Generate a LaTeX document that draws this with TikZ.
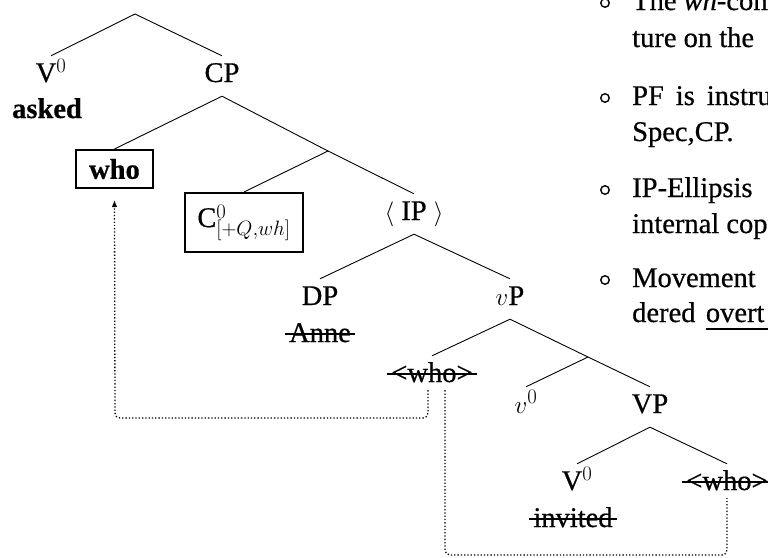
\documentclass[tikz,border=0pt]{standalone}
\usepackage{fontspec}
\setmainfont{Liberation Serif}[FakeBold=0.6]
\usetikzlibrary{arrows.meta}

\begin{document}
\begin{tikzpicture}[x=1pt,y=-1pt,
  font=\fontsize{28.5}{36}\selectfont,
  cat/.style={inner xsep=0pt, inner ysep=7pt, text height=19pt, text depth=7pt, anchor=base},
  word/.style={inner sep=0pt, anchor=base},
  edge/.style={line width=0.9pt},
  boxed/.style={draw, line width=2pt, inner sep=0pt, anchor=center},
  strike/.style={line width=2pt},
  mv/.style={dotted, line width=1.3pt, rounded corners=5pt},
  bul/.style={draw, circle, line width=1.4pt, minimum size=8.5pt, inner sep=0pt},
  btext/.style={inner sep=0pt, anchor=base west}
]
\useasboundingbox (0,0) rectangle (768,557);
\clip (0,0) rectangle (768,557);

% ---- tree nodes ----
\coordinate (root) at (135,14);
\node[cat] (v0) at (51,82) {V$^0$};
\node[word] (asked) at (47,118) {\bfseries asked};
\node[cat] (cp) at (222,82) {CP};
\node[boxed, minimum width=77pt, minimum height=38pt] (whobox) at (114.5,169) {\bfseries who};
\coordinate (cbar) at (328,151);
\node[boxed, minimum width=118pt, minimum height=59pt] (c0) at (244,222.5) {C$^0_{[+Q,wh]}$};
\node[cat] (ip) at (414,220) {$\langle$ IP $\rangle$};
\node[cat] (dp) at (320,305) {DP};
\node[word] (anne) at (320,342) {Anne};
\node[cat] (vp) at (510,305) {$v$P};
\coordinate (vbar) at (588,357);
\node[cat] (whol) at (432,382) {<who>};
\node[cat] (v0b) at (526,413) {$v^0$};
\node[cat] (vpp) at (650,413) {VP};
\node[cat] (vzero) at (577,490) {V$^0$};
\node[word] (invited) at (573,527) {invited};
\node[cat] (whor) at (727,490) {<who>};

% ---- branches ----
\draw[edge] (root) -- (v0.north);
\draw[edge] (root) -- (cp.north);
\draw[edge] (cp.south) -- (whobox.north);
\draw[edge] (cp.south) -- (cbar) -- (ip.north);
\draw[edge] (cbar) -- (c0.north);
\draw[edge] (ip.south) -- (dp.north);
\draw[edge] (ip.south) -- (vp.north);
\draw[edge] (vp.south) -- (whol.north);
\draw[edge] (vp.south) -- (vbar) -- (vpp.north);
\draw[edge] (vbar) -- (v0b.north);
\draw[edge] (vpp.south) -- (vzero.north);
\draw[edge] (vpp.south) -- (whor.north);

% ---- struck-out material ----
\foreach \n in {anne,whol,invited,whor}{
  \draw[strike] ([xshift=-4pt,yshift=8pt]\n.base west) -- ([xshift=4pt,yshift=8pt]\n.base east);
}

% ---- movement paths ----
\coordinate (c1) at (115,418);
\coordinate (c2) at (727,555);
\draw[mv,-{Latex[length=7pt,width=5.5pt]}] ([xshift=-4pt,yshift=6pt]whol.south) |- (c1) -- ([yshift=-11pt]whobox.south);
\draw[mv] ([xshift=13pt,yshift=6pt]whol.south) |- (c2) -- ([yshift=6pt]whor.south);

% ---- bullet list ----
\node[bul] (b1) at (605,3) {};
\node[btext] (t1a) at (632,10) {The \textit{wh}-com};
\node[btext] (t1b) at (632,47) {ture on the};
\node[bul] (b2) at (605,98) {};
\node[btext] (t2a) at (632,105) {PF\hspace{0.42em}is\hspace{0.42em}instruct};
\node[btext] (t2b) at (632,141) {Spec,CP.};
\node[bul] (b3) at (605,190) {};
\node[btext] (t3a) at (632,197) {IP-Ellipsis};
\node[btext] (t3b) at (632,233) {internal copy};
\node[bul] (b4) at (605,280) {};
\node[btext] (t4a) at (632,287) {Movement};
\node[btext] (t4b) at (632,322) {dered};
\node[btext] (t4c) at ([xshift=10pt]t4b.base east) {overt};
\draw[line width=2.5pt] ([yshift=-7pt]t4c.base west) -- ++(70,0);
\end{tikzpicture}
\end{document}
